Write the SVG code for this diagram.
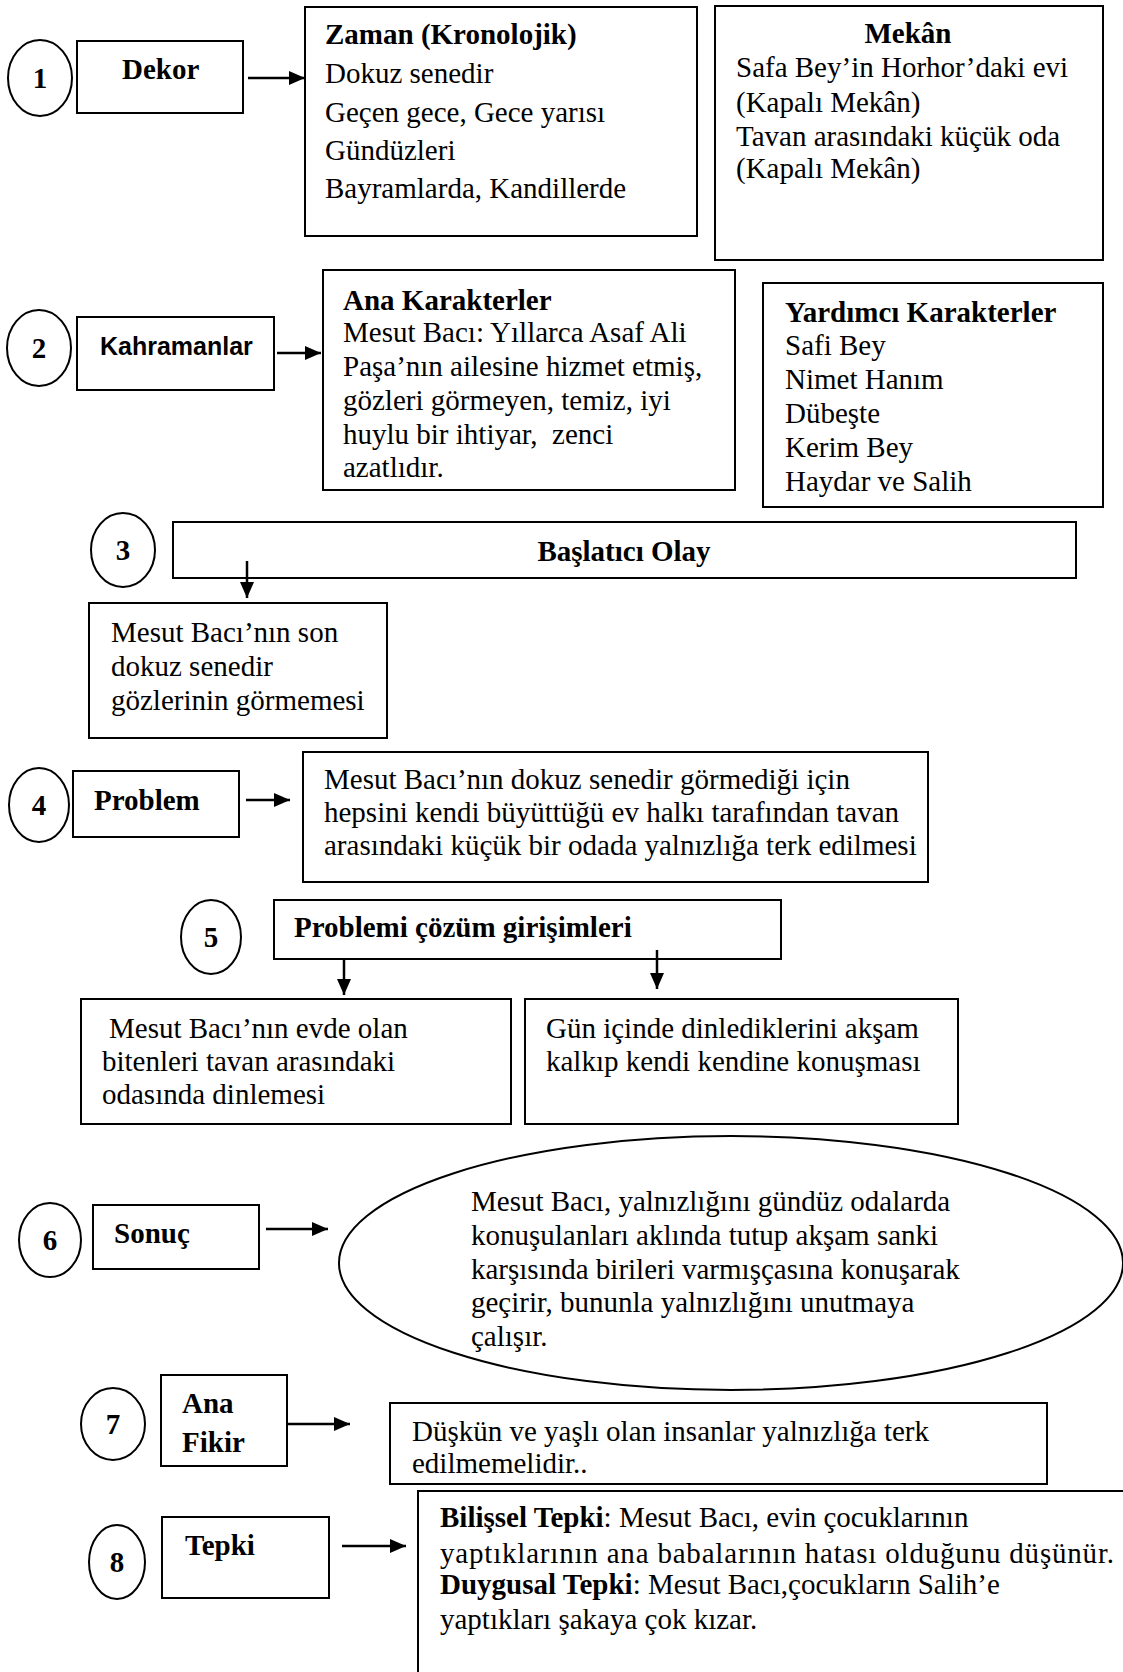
<svg xmlns="http://www.w3.org/2000/svg" width="1123" height="1672" viewBox="0 0 1123 1672">
<defs>
<style>
.box{fill:#fff;stroke:#000;stroke-width:2}
.circ{fill:#fff;stroke:#000;stroke-width:2}
.t{font-family:"Liberation Serif","Times New Roman",serif;font-size:29px;fill:#000}
.b{font-weight:bold}
.num{font-family:"Liberation Serif","Times New Roman",serif;font-size:29px;font-weight:bold;text-anchor:middle;fill:#000}
.k{font-family:"Liberation Sans",Arial,sans-serif;font-size:25px;font-weight:bold;fill:#000}
.conn line{stroke:#000;stroke-width:2.5;fill:none;marker-end:url(#ah)}
</style>
<marker id="ah" markerUnits="userSpaceOnUse" markerWidth="16" markerHeight="14" refX="16" refY="7" orient="auto"><path d="M0,0 L16,7 L0,14 Z" fill="#000"/></marker>
</defs>
<rect width="1123" height="1672" fill="#fff"/>

<g id="n1"><ellipse class="circ" cx="40" cy="78" rx="32" ry="38"/><text class="num" x="40" y="88">1</text></g>
<g id="dekor"><rect class="box" x="77" y="41" width="166" height="72"/><text class="t b" x="122" y="79">Dekor</text></g>
<g id="zaman"><rect class="box" x="305" y="7" width="392" height="229"/>
<text class="t"><tspan class="b" x="325" y="44">Zaman (Kronolojik)</tspan><tspan x="325" y="83">Dokuz senedir</tspan><tspan x="325" y="122">Geçen gece, Gece yarısı</tspan><tspan x="325" y="160">Gündüzleri</tspan><tspan x="325" y="198">Bayramlarda, Kandillerde</tspan></text></g>
<g id="mekan"><rect class="box" x="715" y="6" width="388" height="254"/>
<text class="t b" x="908" y="43" text-anchor="middle">Mekân</text>
<text class="t"><tspan x="736" y="77">Safa Bey’in Horhor’daki evi</tspan><tspan x="736" y="112">(Kapalı Mekân)</tspan><tspan x="736" y="146">Tavan arasındaki küçük oda</tspan><tspan x="736" y="178">(Kapalı Mekân)</tspan></text></g>

<g id="n2"><ellipse class="circ" cx="39" cy="348" rx="32" ry="38"/><text class="num" x="39" y="358">2</text></g>
<g id="kahramanlar"><rect class="box" x="77" y="317" width="197" height="73"/><text class="k" x="100" y="355">Kahramanlar</text></g>
<g id="ana"><rect class="box" x="323" y="270" width="412" height="220"/>
<text class="t"><tspan class="b" x="343" y="310">Ana Karakterler</tspan><tspan x="343" y="342">Mesut Bacı: Yıllarca Asaf Ali</tspan><tspan x="343" y="376">Paşa’nın ailesine hizmet etmiş,</tspan><tspan x="343" y="410">gözleri görmeyen, temiz, iyi</tspan><tspan x="343" y="444">huylu bir ihtiyar,&#160; zenci</tspan><tspan x="343" y="477">azatlıdır.</tspan></text></g>
<g id="yardimci"><rect class="box" x="763" y="283" width="340" height="224"/>
<text class="t"><tspan class="b" x="785" y="322">Yardımcı Karakterler</tspan><tspan x="785" y="355">Safi Bey</tspan><tspan x="785" y="389">Nimet Hanım</tspan><tspan x="785" y="423">Dübeşte</tspan><tspan x="785" y="457">Kerim Bey</tspan><tspan x="785" y="491">Haydar ve Salih</tspan></text></g>

<g id="n3"><ellipse class="circ" cx="123" cy="550" rx="32" ry="37"/><text class="num" x="123" y="560">3</text></g>
<g id="baslatici"><rect class="box" x="173" y="522" width="903" height="56"/><text class="t b" x="624" y="561" text-anchor="middle">Başlatıcı Olay</text></g>
<g id="mesutson"><rect class="box" x="89" y="603" width="298" height="135"/>
<text class="t"><tspan x="111" y="642">Mesut Bacı’nın son</tspan><tspan x="111" y="676">dokuz senedir</tspan><tspan x="111" y="710">gözlerinin görmemesi</tspan></text></g>

<g id="n4"><ellipse class="circ" cx="39" cy="805" rx="30" ry="37"/><text class="num" x="39" y="815">4</text></g>
<g id="problem"><rect class="box" x="73" y="771" width="166" height="66"/><text class="t b" x="94" y="810">Problem</text></g>
<g id="problemtext"><rect class="box" x="303" y="752" width="625" height="130"/>
<text class="t"><tspan x="324" y="789">Mesut Bacı’nın dokuz senedir görmediği için</tspan><tspan x="324" y="822">hepsini kendi büyüttüğü ev halkı tarafından tavan</tspan><tspan x="324" y="855">arasındaki küçük bir odada yalnızlığa terk edilmesi</tspan></text></g>

<g id="n5"><ellipse class="circ" cx="211" cy="937" rx="30" ry="37"/><text class="num" x="211" y="947">5</text></g>
<g id="cozum"><rect class="box" x="274" y="900" width="507" height="59"/><text class="t b" x="294" y="937">Problemi çözüm girişimleri</text></g>
<g id="cozum1"><rect class="box" x="81" y="999" width="430" height="125"/>
<text class="t"><tspan x="109" y="1038">Mesut Bacı’nın evde olan</tspan><tspan x="102" y="1071">bitenleri tavan arasındaki</tspan><tspan x="102" y="1104">odasında dinlemesi</tspan></text></g>
<g id="cozum2"><rect class="box" x="525" y="999" width="433" height="125"/>
<text class="t"><tspan x="546" y="1038">Gün içinde dinlediklerini akşam</tspan><tspan x="546" y="1071">kalkıp kendi kendine konuşması</tspan></text></g>

<g id="n6"><ellipse class="circ" cx="50" cy="1240" rx="31" ry="37"/><text class="num" x="50" y="1250">6</text></g>
<g id="sonuc"><rect class="box" x="93" y="1205" width="166" height="64"/><text class="t b" x="114" y="1243">Sonuç</text></g>
<g id="sonuctext"><ellipse class="box" cx="731" cy="1263" rx="392" ry="127"/>
<text class="t"><tspan x="471" y="1211">Mesut Bacı, yalnızlığını gündüz odalarda</tspan><tspan x="471" y="1245">konuşulanları aklında tutup akşam sanki</tspan><tspan x="471" y="1279">karşısında birileri varmışçasına konuşarak</tspan><tspan x="471" y="1312">geçirir, bununla yalnızlığını unutmaya</tspan><tspan x="471" y="1346">çalışır.</tspan></text></g>

<g id="n7"><ellipse class="circ" cx="113" cy="1424" rx="32" ry="36"/><text class="num" x="113" y="1434">7</text></g>
<g id="anafikir"><rect class="box" x="161" y="1375" width="126" height="91"/>
<text class="t b"><tspan x="182" y="1413">Ana</tspan><tspan x="182" y="1452">Fikir</tspan></text></g>
<g id="fikirtext"><rect class="box" x="390" y="1403" width="657" height="81"/>
<text class="t"><tspan x="412" y="1441">Düşkün ve yaşlı olan insanlar yalnızlığa terk</tspan><tspan x="412" y="1473">edilmemelidir..</tspan></text></g>

<g id="n8"><ellipse class="circ" cx="117" cy="1562" rx="28" ry="37"/><text class="num" x="117" y="1572">8</text></g>
<g id="tepki"><rect class="box" x="162" y="1517" width="167" height="81"/><text class="t b" x="185" y="1555">Tepki</text></g>
<g id="tepkitext"><rect class="box" x="418" y="1491" width="720" height="200"/>
<text class="t" x="440" y="1527"><tspan class="b">Bilişsel Tepki</tspan>: Mesut Bacı, evin çocuklarının</text>
<text class="t" x="440" y="1563" textLength="674" lengthAdjust="spacing">yaptıklarının ana babalarının hatası olduğunu düşünür.</text>
<text class="t" x="440" y="1594"><tspan class="b">Duygusal Tepki</tspan>: Mesut Bacı,çocukların Salih’e</text>
<text class="t" x="440" y="1629">yaptıkları şakaya çok kızar.</text></g>

<g id="connectors" class="conn">
<line x1="248" y1="78" x2="305" y2="78"/>
<line x1="277" y1="353" x2="321" y2="353"/>
<line x1="247" y1="561" x2="247" y2="598"/>
<line x1="246" y1="800" x2="290" y2="800"/>
<line x1="344" y1="959" x2="344" y2="995"/>
<line x1="657" y1="950" x2="657" y2="989"/>
<line x1="266" y1="1229" x2="328" y2="1229"/>
<line x1="287" y1="1424" x2="350" y2="1424"/>
<line x1="342" y1="1546" x2="406" y2="1546"/>
</g>
</svg>
